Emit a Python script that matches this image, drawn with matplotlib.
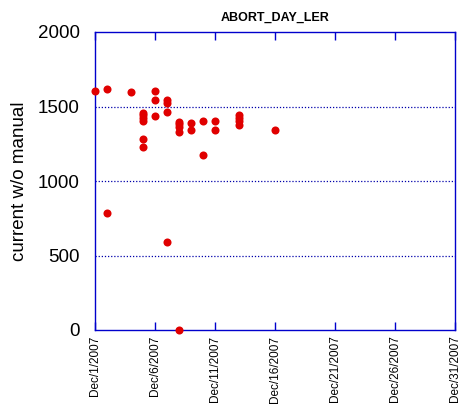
import datetime
import matplotlib
matplotlib.use("Agg")
import matplotlib.pyplot as plt

plt.rcParams["font.family"] = ["Liberation Sans", "DejaVu Sans"]

# day of December 2007 and current w/o manual value
days = [1, 2, 2, 4,
        5, 5, 5, 5, 5, 5,
        6, 6, 6,
        7, 7, 7, 7,
        8, 8, 8, 8, 8,
        9, 9,
        10, 10,
        11, 11,
        13, 13, 13, 13,
        16]
values = [1606, 1615, 783, 1595,
          1456, 1440, 1423, 1405, 1280, 1230,
          1606, 1546, 1434,
          1544, 1523, 1461, 589,
          1398, 1380, 1365, 1331, 0,
          1387, 1342,
          1401, 1172,
          1401, 1340,
          1443, 1420, 1400, 1376,
          1340]

tick_days = [1, 6, 11, 16, 21, 26, 31]
tick_labels = ["Dec/%d/2007" % d for d in tick_days]
y_ticks = [0, 500, 1000, 1500, 2000]

dates = [datetime.datetime(2007, 12, d) for d in days]
tick_dates = [datetime.datetime(2007, 12, d) for d in tick_days]

fig = plt.figure(figsize=(4.63, 4.07), dpi=100)
ax = fig.add_axes([95 / 463, 77 / 407, 360 / 463, 298 / 407])

ax.plot(dates, values, "o", color="#e00000", markersize=5.8, markeredgewidth=0,
        clip_on=False, zorder=3)

ax.set_xlim(tick_dates[0], tick_dates[-1])
ax.set_ylim(0, 2000)
ax.set_xticks(tick_dates)
ax.set_xticklabels(tick_labels, rotation=90, fontsize=8.5)
ax.set_yticks(y_ticks)
ax.set_yticklabels([str(v) for v in y_ticks], fontsize=13.5)
ax.tick_params(axis="x", direction="in", top=True, bottom=True, length=6,
               color="#0000cc", width=1, pad=4)
ax.tick_params(axis="y", length=0, pad=11)

for v in [500, 1000, 1500]:
    ax.axhline(v, color="#0000aa", linestyle=(0, (1, 1.5)), linewidth=0.9, zorder=0)

for s in ax.spines.values():
    s.set_color("#0000cc")
    s.set_linewidth(1.0)

ax.set_ylabel("current w/o manual", fontsize=13.5, labelpad=7)
ax.set_title("ABORT_DAY_LER", fontsize=9, fontweight="bold", pad=8)

fig.savefig("out.png", dpi=100)
